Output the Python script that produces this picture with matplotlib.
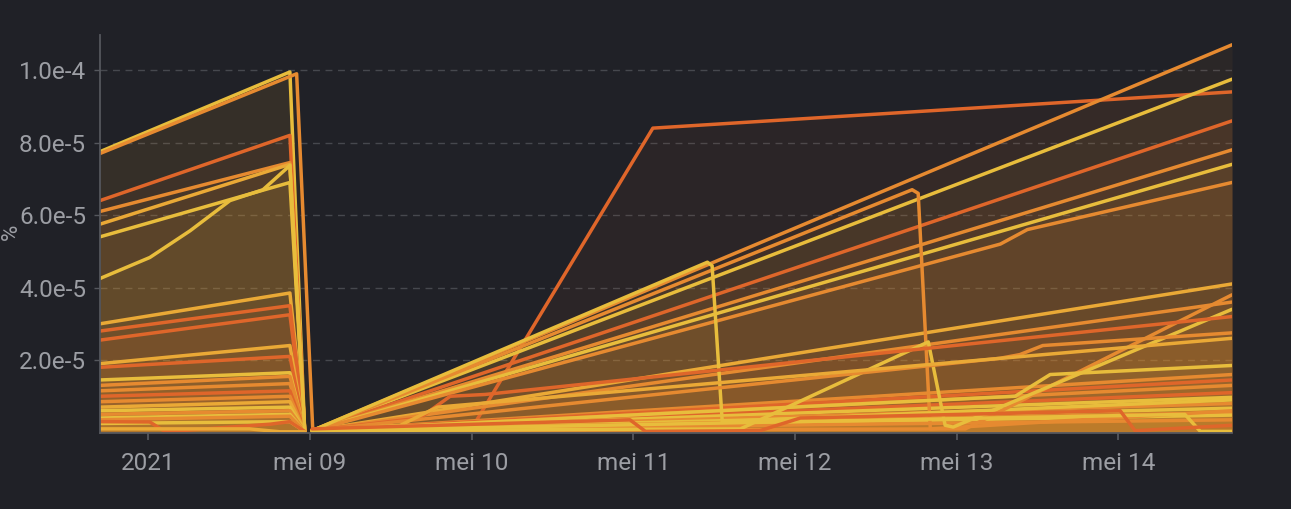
import matplotlib
matplotlib.use("Agg")
from matplotlib import pyplot as plt
import pandas as pd

plt.rcParams["font.family"] = ["Roboto", "DejaVu Sans"]

BASE = pd.Timestamp("2021-05-09 00:00")
SCALE = 1e-5  # values below are in units of 1e-5 %

Y = "#e8bd3c"
YO = "#eaa936"
O = "#e68a30"
RO = "#df662a"

# --- before the reset (hours relative to mei 09 00:00) ---
pre_hours = [-31.2, -3.0, -0.8]
pre_start = [7.75, 6.4, 6.1, 5.75, 5.4, 3.0, 2.8, 2.55, 1.9, 1.8, 1.45, 1.3, 1.15, 1.0, 0.85, 0.7, 0.6, 0.5, 0.4, 0.35, 0.25]
pre_peak = [9.95, 8.2, 7.45, 7.4, 6.9, 3.85, 3.5, 3.25, 2.4, 2.1, 1.65, 1.55, 1.35, 1.15, 1.0, 0.85, 0.7, 0.6, 0.5, 0.45, 0.3]
pre_colors = [Y, RO, O, YO, Y, YO, RO, RO, YO, RO, Y, O, O, RO, O, YO, Y, O, Y, O, Y]
floor = 0.03

late_orange_hours = [-31.2, -2.0, 0.4]
late_orange_vals = [7.7, 9.9, 0.05]

curve_yellow_hours = [-31.2, -23.8, -17.8, -11.9, -7.0, -3.0, -0.8]
curve_yellow_vals = [4.25, 4.83, 5.57, 6.4, 6.7, 7.37, 0.03]

dip_red_hours = [-31.2, -23.8, -21.5, -5.9, -3.0, -0.8]
dip_red_vals = [0.3, 0.29, 0.02, 0.23, 0.3, 0.03]

low_yellow_hours = [-31.2, -9.0, -4.5, -0.8]
low_yellow_vals = [0.1, 0.1, 0.02, 0.02]

# --- after the reset ---
post_hours = [0.3, 136.9]
post_end = [10.7, 9.75, 8.6, 7.8, 7.4, 4.1, 3.6, 1.6, 1.45, 1.3, 1.1, 0.97, 0.8, 0.67, 0.55, 0.48, 0.35]
post_colors = [O, Y, RO, O, Y, YO, O, O, RO, O, RO, Y, O, Y, O, Y, O]

jump_red_hours = [0.3, 23.8, 50.9, 136.9]
jump_red_vals = [0.05, 0.05, 8.4, 9.4]

wavy_orange_hours = [0.3, 102.5, 106.5, 136.9]
wavy_orange_vals = [0.05, 5.2, 5.6, 6.9]

drop_orange_hours = [0.3, 89.4, 90.3, 92.1, 136.9]
drop_orange_vals = [0.05, 6.7, 6.6, 0.1, 0.6]

drop_yellow_hours = [0.3, 59.0, 59.7, 61.2, 136.9]
drop_yellow_vals = [0.05, 4.7, 4.6, 0.3, 0.9]

late_orange2_hours = [0.3, 97.3, 136.9]
late_orange2_vals = [0.05, 0.1, 3.8]

bump_yellow_hours = [0.3, 63.9, 91.8, 94.3, 95.5, 136.9]
bump_yellow_vals = [0.05, 0.1, 2.5, 0.2, 0.15, 3.4]

step_red_hours = [0.3, 16.3, 20.8, 26.0, 136.9]
step_red_vals = [0.05, 0.4, 1.0, 1.05, 3.2]

step_orange_hours = [0.3, 102.5, 105.4, 108.8, 136.9]
step_orange_vals = [0.05, 2.05, 2.15, 2.4, 2.75]

step_yellow_hours = [0.3, 13.4, 18.9, 136.9]
step_yellow_vals = [0.05, 0.2, 0.7, 2.6]

knee_yellow_hours = [0.3, 104.7, 109.9, 136.9]
knee_yellow_vals = [0.05, 1.0, 1.6, 1.85]

end_drop_yellow_hours = [0.3, 129.9, 132.2, 136.9]
end_drop_yellow_vals = [0.05, 0.5, 0.03, 0.03]

dips_red_hours = [0.3, 47.5, 49.8, 66.8, 72.8, 120.3, 122.5, 136.9]
dips_red_vals = [0.1, 0.35, 0.03, 0.05, 0.4, 0.6, 0.05, 0.2]

x_ticks = ["2021-05-08", "2021-05-09", "2021-05-10", "2021-05-11", "2021-05-12", "2021-05-13", "2021-05-14"]
x_labels = ["2021", "mei 09", "mei 10", "mei 11", "mei 12", "mei 13", "mei 14"]
y_ticks = [2, 4, 6, 8, 10]
y_labels = ["2.0e-5", "4.0e-5", "6.0e-5", "8.0e-5", "1.0e-4"]

series = []
for s, p, c in zip(pre_start, pre_peak, pre_colors):
    series.append((pre_hours, [s, p, floor], c))
series.append((late_orange_hours, late_orange_vals, O))
series.append((curve_yellow_hours, curve_yellow_vals, Y))
series.append((dip_red_hours, dip_red_vals, RO))
series.append((low_yellow_hours, low_yellow_vals, YO))
series.append((jump_red_hours, jump_red_vals, RO))
for e, c in zip(post_end, post_colors):
    series.append((post_hours, [0.05, e], c))
series.append((wavy_orange_hours, wavy_orange_vals, O))
series.append((drop_orange_hours, drop_orange_vals, O))
series.append((drop_yellow_hours, drop_yellow_vals, Y))
series.append((late_orange2_hours, late_orange2_vals, O))
series.append((bump_yellow_hours, bump_yellow_vals, Y))
series.append((step_red_hours, step_red_vals, RO))
series.append((step_orange_hours, step_orange_vals, O))
series.append((step_yellow_hours, step_yellow_vals, YO))
series.append((knee_yellow_hours, knee_yellow_vals, Y))
series.append((end_drop_yellow_hours, end_drop_yellow_vals, Y))
series.append((dips_red_hours, dips_red_vals, RO))

bg = "#202127"
fig = plt.figure(figsize=(12.91, 5.09), dpi=100, facecolor=bg)
ax = fig.add_axes([100 / 1291, 1 - 432.5 / 509, 1132 / 1291, 397.5 / 509])
ax.set_facecolor(bg)

for hours, vals, c in series:
    t = BASE + pd.to_timedelta(hours, unit="h")
    v = [x * SCALE for x in vals]
    ax.fill_between(t, v, 0, color=c, alpha=0.06, linewidth=0)

for hours, vals, c in series:
    t = BASE + pd.to_timedelta(hours, unit="h")
    v = [x * SCALE for x in vals]
    ax.plot(t, v, color=c, lw=2.5, solid_joinstyle="round", solid_capstyle="round")

ax.set_xlim(BASE + pd.Timedelta(hours=-31.2), BASE + pd.Timedelta(hours=136.9))
ax.set_ylim(0, 10.97 * SCALE)

ax.set_xticks(pd.to_datetime(x_ticks))
ax.set_xticklabels(x_labels)
ax.set_yticks([y * SCALE for y in y_ticks])
ax.set_yticklabels(y_labels)

ax.grid(axis="y", color="#46484e", linestyle=(0, (5, 4)), linewidth=1.0)
ax.set_axisbelow(True)
for side in ["top", "right"]:
    ax.spines[side].set_visible(False)
for side in ["left", "bottom"]:
    ax.spines[side].set_color("#55575d")
    ax.spines[side].set_linewidth(1.3)
ax.tick_params(axis="x", colors="#55575d", length=5, width=1.3, pad=9,
               labelcolor="#9c9ea4", labelsize=17.5)
ax.tick_params(axis="y", colors="#55575d", length=4, width=1.0, pad=6,
               labelcolor="#9c9ea4", labelsize=17.5)

fig.text(0.009, 0.545, "%", rotation=90, color="#9c9ea4", fontsize=16,
         ha="center", va="center")

fig.savefig("out.png", dpi=100, facecolor=bg)
